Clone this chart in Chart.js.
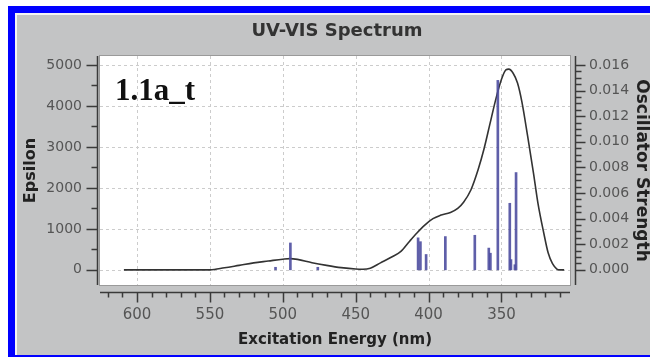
<!DOCTYPE html>
<html>
<head>
<meta charset="utf-8">
<script src="https://cdn.jsdelivr.net/npm/chart.js@4"></script>
<style>
  html, body { margin: 0; padding: 0; background: #fff; overflow: hidden; }
  #wrap { position: relative; width: 650px; height: 357px; }
  #frame {
    position: absolute; left: 8px; top: 6px; width: 700px; height: 351px;
    box-sizing: border-box;
    border-left: 7px solid #0000ff; border-top: 7px solid #0000ff; border-bottom: 2px solid #0000ff;
    box-shadow: inset 2px 2px 0 #f4f4f4;
    pointer-events: none;
  }
  canvas { position: absolute; left: 0; top: 0; }
</style>
</head>
<body>
<div id="wrap">
  <canvas id="myChart" width="650" height="357"></canvas>
  <div id="frame"></div>
</div>
<script>
// broadened spectrum (nm -> epsilon)
var curveNm = [609, 590, 570, 550, 540, 530, 520, 510, 500, 495, 490, 480, 470, 460, 450, 445, 440, 433, 425, 419, 413, 408, 403, 397, 392, 385, 380, 376, 371, 366, 362, 358, 354, 350, 347, 345, 342, 339, 336, 332, 328, 325, 321, 318, 315, 312, 310, 307];
var curveEps = [0, 0, 0, 0, 50, 110, 170, 215, 260, 275, 255, 175, 110, 55, 20, 15, 40, 170, 320, 450, 700, 900, 1080, 1250, 1330, 1400, 1500, 1650, 1950, 2450, 2950, 3550, 4150, 4650, 4880, 4900, 4800, 4560, 4100, 3250, 2350, 1630, 900, 415, 150, 20, 0, 0];

// excitations (nm -> oscillator strength)
var stickNm = [505, 494.8, 476, 407.2, 405.6, 401.7, 388.5, 368.3, 358.7, 357.6, 352.5, 344.3, 343.5, 340.8, 340];
var stickF = [0.0002, 0.0021, 0.0002, 0.0025, 0.0022, 0.0012, 0.0026, 0.0027, 0.0017, 0.0013, 0.0148, 0.0052, 0.0008, 0.0004, 0.0076];

var xTicks = [600, 550, 500, 450, 400, 350];
var epsTicks = [0, 1000, 2000, 3000, 4000, 5000];
var fTicks = [0, 0.002, 0.004, 0.006, 0.008, 0.010, 0.012, 0.014, 0.016];

var FONT = "DejaVu Sans";

var frame = {
    id: "frame",
    beforeDraw(chart) {
        var ctx = chart.ctx, a = chart.chartArea;
        var x = chart.scales.x, y = chart.scales.y;
        ctx.save();
        ctx.fillStyle = "#c3c4c5";
        ctx.fillRect(15, 13, chart.width - 15, chart.height - 13);
        ctx.fillStyle = "#ffffff";
        ctx.fillRect(a.left, a.top, a.right - a.left, a.bottom - a.top);
        ctx.strokeStyle = "#9a9a9a";
        ctx.lineWidth = 1;
        ctx.strokeRect(a.left - 0.5, a.top - 0.5, a.right - a.left + 1, a.bottom - a.top + 1);
        // dashed grid
        ctx.strokeStyle = "#cccccc";
        ctx.setLineDash([3, 3]);
        ctx.beginPath();
        xTicks.forEach(v => {
            var px = Math.round(x.getPixelForValue(v)) + 0.5;
            ctx.moveTo(px, a.top); ctx.lineTo(px, a.bottom);
        });
        epsTicks.forEach(v => {
            var py = Math.round(y.getPixelForValue(v)) + 0.5;
            ctx.moveTo(a.left, py); ctx.lineTo(a.right, py);
        });
        ctx.stroke();
        ctx.restore();
    },
    afterDraw(chart) {
        var ctx = chart.ctx, a = chart.chartArea;
        var x = chart.scales.x, y = chart.scales.y, y1 = chart.scales.y1;
        ctx.save();
        ctx.strokeStyle = "#3a3a3a";
        ctx.lineWidth = 1.5;
        ctx.beginPath();
        // bottom axis
        var by = a.bottom + 7.5;
        ctx.moveTo(a.left, by); ctx.lineTo(a.right, by);
        for (var v = 310; v <= 620; v += 10) {
            var px = Math.round(x.getPixelForValue(v)) + 0.5;
            var len = v % 50 === 0 ? 10 : 5;
            ctx.moveTo(px, by); ctx.lineTo(px, by + len);
        }
        // left axis
        var lx = a.left - 2.5;
        ctx.moveTo(lx, a.top); ctx.lineTo(lx, a.bottom);
        for (var e = 0; e <= 5000; e += 500) {
            var py = Math.round(y.getPixelForValue(e)) + 0.5;
            var l2 = e % 1000 === 0 ? 11 : 6;
            ctx.moveTo(lx, py); ctx.lineTo(lx - l2, py);
        }
        // right axis
        var rx = a.right + 5.5;
        ctx.moveTo(rx, a.top); ctx.lineTo(rx, a.bottom);
        for (var k = 0; k <= 32; k++) {
            var py2 = Math.round(y1.getPixelForValue(k * 0.0005)) + 0.5;
            var l3 = k % 4 === 0 ? 10 : 6;
            ctx.moveTo(rx, py2); ctx.lineTo(rx + l3, py2);
        }
        ctx.stroke();
        // title, centred over the plot
        ctx.fillStyle = "#333";
        ctx.font = "bold 18px '" + FONT + "'";
        ctx.textAlign = "center";
        ctx.textBaseline = "middle";
        ctx.fillText("UV-VIS Spectrum", (a.left + a.right) / 2 + 2, 31);
        // sample label
        ctx.fillStyle = "#111";
        ctx.font = "bold 31px 'Liberation Serif'";
        ctx.textAlign = "left";
        ctx.textBaseline = "alphabetic";
        ctx.fillText("1.1a_t", a.left + 15, 100);
        ctx.restore();
    }
};

new Chart("myChart", {
    type: "line",
    data: {
        datasets: [
            {
                type: "bar",
                data: stickNm.map((v, i) => ({ x: v, y: stickF[i] })),
                yAxisID: "y1",
                backgroundColor: "rgba(78, 78, 160, 0.9)",
                barThickness: 2,
                order: 0,
            },
            {
                data: curveNm.map((v, i) => ({ x: v, y: curveEps[i] })),
                yAxisID: "y",
                borderColor: "#333333",
                borderWidth: 1.6,
                pointRadius: 0,
                cubicInterpolationMode: "monotone",
                fill: false,
                order: 1,
            },
        ],
    },
    plugins: [frame],
    options: {
        responsive: false,
        animation: false,
        devicePixelRatio: 1,
        layout: { padding: { top: 56 } },
        scales: {
            x: {
                type: "linear",
                reverse: true,
                offset: false,
                min: 303,
                max: 625.4,
                afterFit: s => { s.height = 72; },
                grid: { display: false, drawTicks: false, offset: false },
                border: { display: false },
                ticks: {
                    stepSize: 50, includeBounds: false, padding: 21,
                    color: "#555", font: { family: FONT, size: 15 },
                },
                title: {
                    display: true, text: "Excitation Energy (nm)", color: "#222",
                    font: { family: FONT, size: 15, weight: "bold" }, padding: { top: 0, bottom: 8 },
                },
            },
            y: {
                position: "left",
                min: -370,
                max: 5220,
                afterFit: s => { s.width = 100; },
                grid: { display: false, drawTicks: false },
                border: { display: false },
                afterBuildTicks: s => { s.ticks = epsTicks.map(v => ({ value: v })); },
                ticks: {
                    padding: 18, color: "#555", font: { family: FONT, size: 14 },
                    callback: v => String(v),
                },
                title: {
                    display: true, text: "Epsilon", color: "#222",
                    font: { family: FONT, size: 16, weight: "bold" }, padding: { top: 21, bottom: 0 },
                },
            },
            y1: {
                position: "right",
                min: -0.001184,
                max: 0.016704,
                afterFit: s => { s.width = 80; },
                grid: { display: false, drawTicks: false },
                border: { display: false },
                afterBuildTicks: s => { s.ticks = fTicks.map(v => ({ value: v })); },
                ticks: {
                    padding: 19, color: "#555", font: { family: FONT, size: 14 },
                    callback: v => v.toFixed(3),
                },
                title: {
                    display: true, text: "Oscillator Strength", color: "#222",
                    font: { family: FONT, size: 17, weight: "bold" }, padding: { top: -2, bottom: 0 },
                },
            },
        },
        plugins: {
            legend: { display: false },
            tooltip: { enabled: false },
            title: { display: false },
        },
    },
});
</script>
</body>
</html>
